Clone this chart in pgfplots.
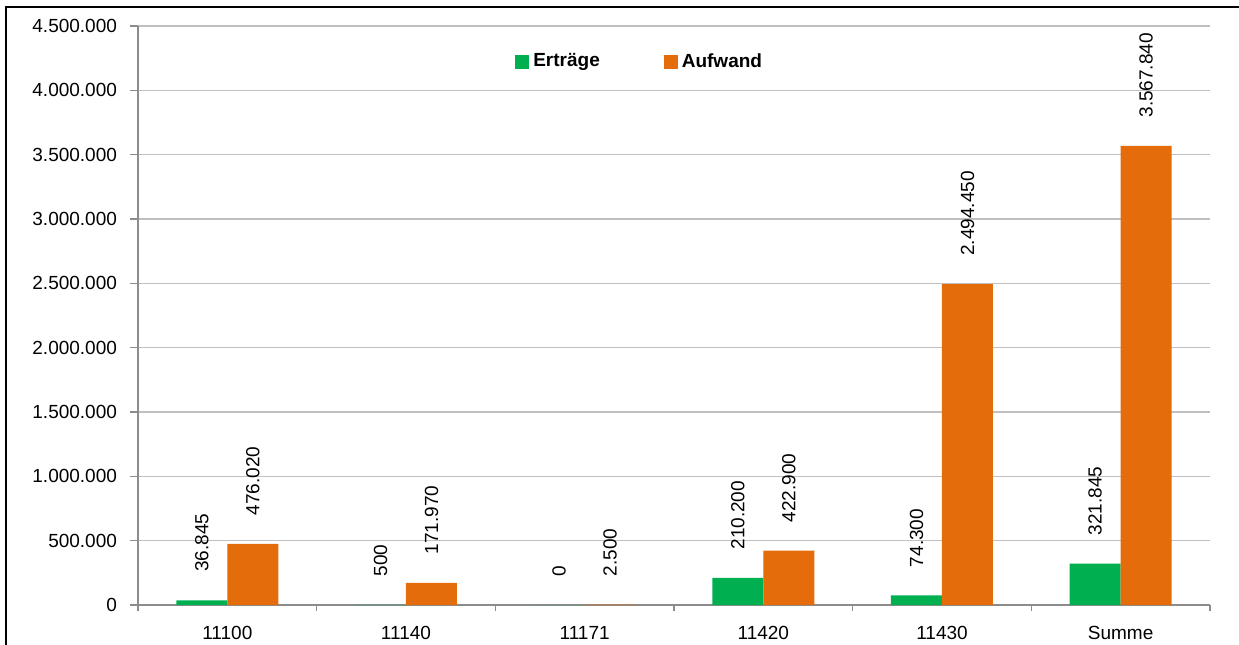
\documentclass[border=0pt]{standalone}
\usepackage{fontspec}
\setmainfont{Liberation Sans}
\usepackage{pgfplots}
\pgfplotsset{compat=1.18}

\definecolor{ergreen}{RGB}{0,176,80}
\definecolor{aforange}{RGB}{228,108,10}
\definecolor{axisgray}{RGB}{140,140,140}
\definecolor{gridgray}{RGB}{192,192,192}

\begin{document}
\begin{tikzpicture}
\useasboundingbox (0,0) rectangle (619.5pt,322pt);
\clip (0,0) rectangle (619.5pt,322pt);
% outer frame (cut off at right and bottom in the original)
\draw[black, line width=1.1pt] (3pt,-10pt) -- (3pt,318.5pt) -- (640pt,318.5pt);
\begin{axis}[
  at={(69pt,19.5pt)}, anchor=south west,
  scale only axis, width=536pt, height=289.5pt,
  xmin=-0.5, xmax=5.5, ymin=0, ymax=4500000,
  ybar=0pt, bar width=25.5pt,
  axis lines*=left,
  axis line style={draw=axisgray, line width=0.75pt},
  tick align=outside,
  tick style={draw=axisgray, line width=0.75pt},
  major tick length=4pt, minor tick length=3pt,
  major x tick style={draw=none},
  ymajorgrids, grid style={draw=gridgray, line width=0.75pt},
  ytick={0,500000,...,4500000},
  scaled y ticks=false,
  /pgf/number format/fixed,
  /pgf/number format/precision=0,
  /pgf/number format/1000 sep={.},
  /pgf/number format/assume math mode=true,
  xtick={0,1,2,3,4,5},
  xticklabels={11100,11140,11171,11420,11430,Summe},
  minor xtick={-0.5,0.5,1.5,2.5,3.5,4.5,5.5},
  ticklabel style={font=\fontsize{9.5}{11}\selectfont, text=black},
  xticklabel style={yshift=-3pt},
  yticklabel style={xshift=-3pt},
  point meta=explicit symbolic,
  nodes near coords={\pgfplotspointmeta},
  nodes near coords style={font=\fontsize{9.5}{11}\selectfont, text=black,
    rotate=90, anchor=west, inner xsep=14pt},
  legend columns=2,
  legend style={at={(0.346,0.938)}, anchor=west, draw=none, fill=none,
    font=\bfseries\fontsize{9.5}{11}\selectfont,
    /tikz/every even column/.append style={column sep=30pt}},
]
\addplot[fill=ergreen, draw=none,
  legend image code/.code={\fill[ergreen] (0pt,-3.5pt) rectangle (7pt,3.5pt);}]
  coordinates {(0,36845)[36.845] (1,500)[500] (2,0)[0] (3,210200)[210.200] (4,74300)[74.300] (5,321845)[321.845]};
\addlegendentry{Erträge}
\addplot[fill=aforange, draw=none,
  legend image code/.code={\fill[aforange] (0pt,-3.5pt) rectangle (7pt,3.5pt);}]
  coordinates {(0,476020)[476.020] (1,171970)[171.970] (2,2500)[2.500] (3,422900)[422.900] (4,2494450)[2.494.450] (5,3567840)[3.567.840]};
\addlegendentry{Aufwand}
\end{axis}
\end{tikzpicture}
\end{document}
